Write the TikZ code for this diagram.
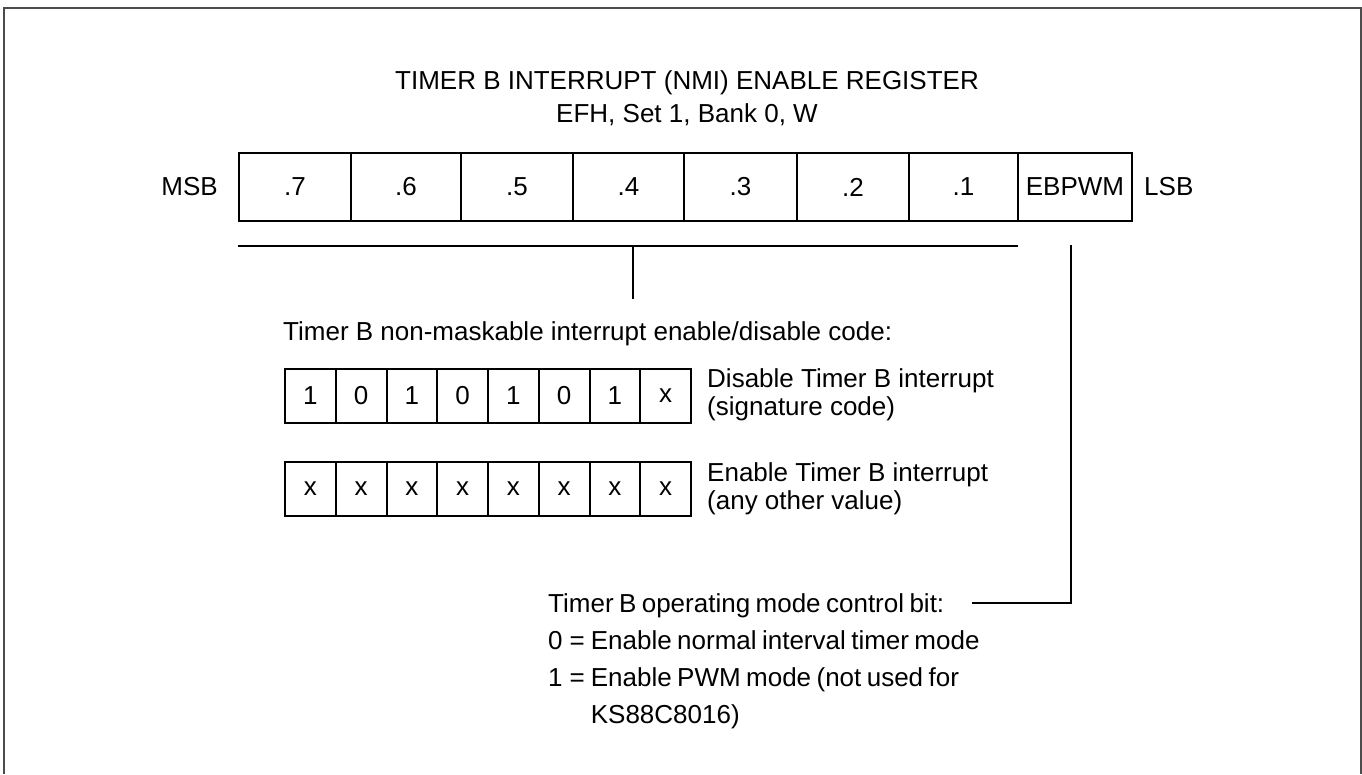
\documentclass[tikz,border=0pt]{standalone}
\usepackage{fontspec}
\setmainfont{Liberation Sans}
\newfontfamily\tightsans[WordSpace=0.75]{Liberation Sans}
\usetikzlibrary{calc}
\begin{document}
\begin{tikzpicture}[x=1pt,y=-1pt,
  every node/.style={font=\fontsize{26}{28}\selectfont, inner sep=0pt},
  regcell/.style={draw, line width=2pt, minimum height=68pt},
  bitcell/.style={draw, line width=2pt, minimum height=54pt, minimum width=50.75pt},
  wire/.style={line width=2pt},
  outline/.style={line width=2.5pt, draw=black!70}]

\useasboundingbox (0,0) rectangle (1362,774);

% open frame around the figure
\draw[outline] (4,774) -- (4,8) -- (1361,8) -- (1361,774);

% title
\node (title1) at (687,83) {TIMER B INTERRUPT (NMI) ENABLE REGISTER};
\node (title2) at (687,115) {EFH, Set 1, Bank 0, W};

% register bit cells
\foreach \l/\r/\t/\n in {239/351/.7/7, 351/461/.6/6, 461/573/.5/5, 573/684/.4/4,
                         684/797/.3/3, 797/909/.2/2, 909/1018/.1/1, 1018/1132/EBPWM/0}
  \node[regcell, minimum width={(\r-\l)*1pt}] (r\n) at ({(\l+\r)/2},187) {\t};

\node[anchor=east] (msb) at (218,187) {MSB};
\node[anchor=west] (lsb) at (1144,187) {LSB};

% bracket over bits 7..1
\coordinate (bl) at ($(r7.south west)+(0,24)$);
\coordinate (br) at ($(r1.south east)+(-1,24)$);
\coordinate (bm) at ($(r4.south)+(4,24)$);
\coordinate (bmend) at ($(bm)+(0,53)$);
\draw[wire] (bl) -- (br);
\draw[wire] (bm) -- (bmend);

% code description
\node[anchor=west] (codehead) at (283,334) {Timer B non-maskable interrupt enable/disable code:};

\foreach \v [count=\i from 0] in {1,0,1,0,1,0,1,x}
  \node[bitcell] (a\i) at ({285+50.75*(\i+0.5)},396) {\v};
\foreach \v [count=\i from 0] in {x,x,x,x,x,x,x,x}
  \node[bitcell] (b\i) at ({285+50.75*(\i+0.5)},489) {\v};

\node[anchor=west, align=left] (dis) at (707,395) {Disable Timer B interrupt\\(signature code)};
\node[anchor=west, align=left] (ena) at (707,489) {Enable Timer B interrupt\\(any other value)};

% mode bit description
\node[anchor=base west] (mode) at (548,612) {%
  \tightsans\fontsize{26}{37}\selectfont
  \begin{tabular}[t]{@{}l@{\hspace{7pt}}l@{\hspace{6pt}}l@{}}
    \multicolumn{3}{@{}l@{}}{Timer B operating mode control bit:}\\
    0 & = & Enable normal interval timer mode\\
    1 & = & Enable PWM mode (not used for\\
      &   & KS88C8016)
  \end{tabular}};

\coordinate (pwmtop) at ($(r0.south)+(-4,23)$);
\coordinate (pwmcorner) at (pwmtop |- 0,603);
\coordinate (pwmend) at (972,603);
\draw[wire] (pwmtop) -- (pwmcorner) -- (pwmend);

\end{tikzpicture}
\end{document}
